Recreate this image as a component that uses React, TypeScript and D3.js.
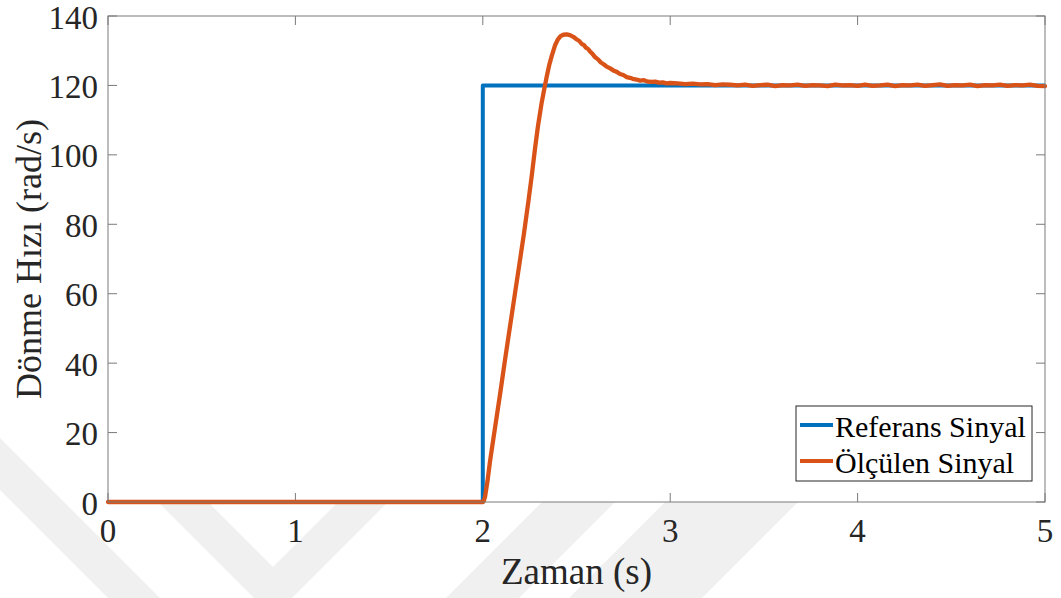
import React from "react";
import * as d3 from "d3";

// ---- data ----
const xTicks = [0, 1, 2, 3, 4, 5];
const yTicks = [0, 20, 40, 60, 80, 100, 120, 140];

const refT = [0, 2, 2, 5];
const refV = [0, 0, 120, 120];

const measT = [
  0, 2.0, 2.005, 2.012, 2.025, 2.038, 2.06, 2.092, 2.12, 2.145, 2.17, 2.198, 2.22, 2.243, 2.26, 2.279,
  2.295, 2.314, 2.33, 2.341, 2.355, 2.368, 2.385, 2.4, 2.415, 2.43, 2.448, 2.465, 2.483, 2.5, 2.515,
  2.527, 2.54, 2.55, 2.562, 2.572, 2.585, 2.6, 2.615, 2.63, 2.645, 2.661, 2.68, 2.7, 2.715, 2.732,
  2.75, 2.768, 2.785, 2.8, 2.82, 2.84, 2.86, 2.875, 2.9, 2.92, 2.94, 2.96, 2.98, 3.0,
  3.04, 3.08, 3.12, 3.16, 3.2, 3.24, 3.28, 3.32, 3.36, 3.4, 3.44, 3.48, 3.52, 3.56, 3.6, 3.64, 3.68,
  3.72, 3.76, 3.8, 3.84, 3.88, 3.92, 3.96, 4.0, 4.04, 4.08, 4.12, 4.16, 4.2, 4.24, 4.28, 4.32, 4.36,
  4.4, 4.44, 4.48, 4.52, 4.56, 4.6, 4.64, 4.68, 4.72, 4.76, 4.8, 4.84, 4.88, 4.92, 4.96, 5.0,
];
const measV = [
  0, 0, 0.3, 1.5, 6, 11.5, 19.5, 31, 41.5, 50.5, 59.5, 69.5, 77.5, 86.5, 93.5, 102,
  108.5, 115, 119.5, 122.5, 126, 128.5, 131.5, 133.2, 134.2, 134.6, 134.7, 134.5, 134.0, 133.3, 132.8,
  132.0, 131.6, 130.9, 130.5, 129.8, 129.1, 128.1, 127.5, 126.6, 126.1, 125.4, 124.9, 124.2, 123.9, 123.3,
  123.0, 122.4, 122.2, 121.9, 121.7, 121.4, 121.5, 121.2, 121.0, 121.1, 120.8, 120.9, 120.6, 120.7,
  120.6, 120.4, 120.5, 120.3, 120.4, 120.1, 120.3, 120.2, 120.0, 120.2, 119.9, 120.1, 120.2, 119.8, 120.1, 120.0, 120.2,
  119.9, 120.1, 120.0, 119.8, 120.2, 120.0, 120.1, 119.9, 120.2, 119.9, 120.0, 120.2, 119.8, 120.1, 120.0, 120.2, 119.9,
  120.1, 120.3, 119.9, 120.1, 120.0, 120.2, 119.8, 120.1, 120.0, 120.2, 119.9, 120.1, 120.0, 120.2, 119.9, 119.8,
];

const seriesNames = ["Referans Sinyal", "Ölçülen Sinyal"];
const seriesColors = ["#0072BD", "#D95319"];
const xLabel = "Zaman (s)";
const yLabel = "Dönme Hızı (rad/s)";

const W = 1061;
const H = 598;
const M = { left: 108, right: 1045, top: 16, bottom: 502 };
const FONT = "'Liberation Serif', 'Times New Roman', serif";
const AX = "#7a7a7a";
const TXT = "#262626";

export default function App() {
  const x = d3.scaleLinear().domain([0, 5]).range([M.left, M.right]);
  const y = d3.scaleLinear().domain([0, 140]).range([M.bottom, M.top]);

  const line = d3
    .line<[number, number]>()
    .x((d) => x(d[0]))
    .y((d) => y(d[1]));

  const refPts = refT.map((t, i) => [t, refV[i]] as [number, number]);
  const measPts = measT.map((t, i) => [t, measV[i]] as [number, number]);

  // faint watermark bands (decorative background)
  const wm = [
    [[-10, 428], [200, 638], [200, 690], [-10, 480]],
    [[108, 402], [273, 567], [500, 340], [500, 390], [273, 617], [108, 452]],
    [[544, 500], [617, 500], [497, 620], [424, 620]],
    [[667, 500], [800, 500], [680, 620], [547, 620]],
  ];

  const tickLen = 9;

  return (
    <svg
      width={W}
      height={H}
      viewBox={`0 0 ${W} ${H}`}
      style={{ position: "absolute", left: 0, top: 0, background: "#fff" }}
    >
      <rect x={0} y={0} width={W} height={H} fill="#fff" />
      {wm.map((p, i) => (
        <polygon key={i} points={p.map((q) => q.join(",")).join(" ")} fill="#f0f0f0" />
      ))}
      <rect
        x={M.left}
        y={M.top}
        width={M.right - M.left}
        height={M.bottom - M.top}
        fill="#fff"
      />

      {/* ticks */}
      {xTicks.map((t) => (
        <g key={"xt" + t}>
          <line x1={x(t)} x2={x(t)} y1={M.bottom} y2={M.bottom - tickLen} stroke={AX} strokeWidth={1} />
          <line x1={x(t)} x2={x(t)} y1={M.top} y2={M.top + tickLen} stroke={AX} strokeWidth={1} />
          <text
            x={x(t)}
            y={542}
            textAnchor="middle"
            fontFamily={FONT}
            fontSize={33}
            fill={TXT}
          >
            {t}
          </text>
        </g>
      ))}
      {yTicks.map((t) => (
        <g key={"yt" + t}>
          <line x1={M.left} x2={M.left + tickLen} y1={y(t)} y2={y(t)} stroke={AX} strokeWidth={1} />
          <line x1={M.right} x2={M.right - tickLen} y1={y(t)} y2={y(t)} stroke={AX} strokeWidth={1} />
          <text
            x={98}
            y={y(t) + 12.5}
            textAnchor="end"
            fontFamily={FONT}
            fontSize={33}
            fill={TXT}
          >
            {t}
          </text>
        </g>
      ))}

      {/* lines */}
      <path d={line(refPts) || ""} fill="none" stroke={seriesColors[0]} strokeWidth={4} strokeLinejoin="round" />
      <path d={line(measPts) || ""} fill="none" stroke={seriesColors[1]} strokeWidth={4.3} strokeLinejoin="round" strokeLinecap="round" />

      {/* axes box */}
      <rect
        x={M.left}
        y={M.top}
        width={M.right - M.left}
        height={M.bottom - M.top}
        fill="none"
        stroke={AX}
        strokeWidth={1}
      />

      {/* axis labels */}
      <text
        x={(M.left + M.right) / 2}
        y={584}
        textAnchor="middle"
        fontFamily={FONT}
        fontSize={37}
        fill={TXT}
      >
        {xLabel}
      </text>
      <text
        transform={`translate(41, ${(M.top + M.bottom) / 2}) rotate(-90)`}
        textAnchor="middle"
        fontFamily={FONT}
        fontSize={36}
        fill={TXT}
      >
        {yLabel}
      </text>

      {/* legend */}
      <rect x={796} y={406} width={236} height={75} fill="#fff" stroke={TXT} strokeWidth={1} />
      {seriesNames.map((n, i) => (
        <g key={n}>
          <line x1={800} x2={833} y1={425 + i * 36} y2={425 + i * 36} stroke={seriesColors[i]} strokeWidth={4} />
          <text x={835} y={436.5 + i * 36} fontFamily={FONT} fontSize={30} fill="#000">
            {n}
          </text>
        </g>
      ))}
    </svg>
  );
}
